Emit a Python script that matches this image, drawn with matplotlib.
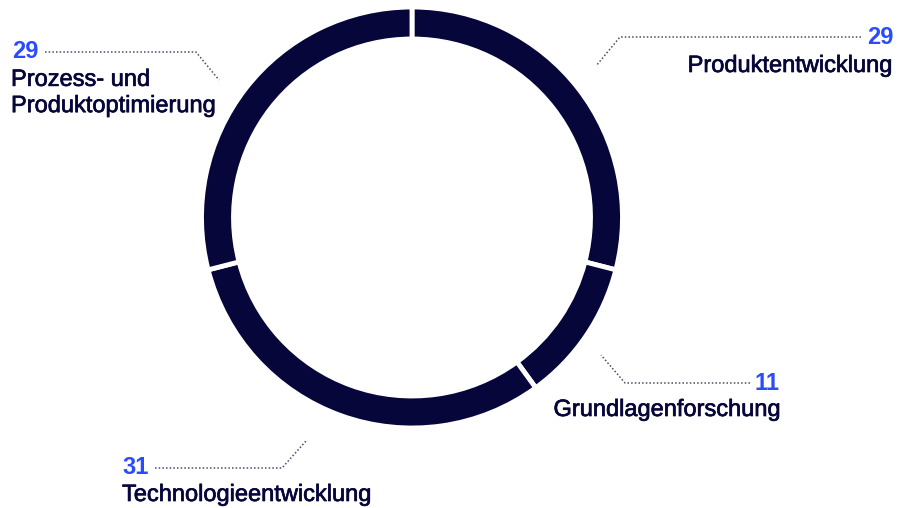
import matplotlib
matplotlib.use("Agg")
import matplotlib.pyplot as plt
import matplotlib.patheffects as pe

# data
kategorien = ["Produktentwicklung", "Grundlagenforschung", "Technologieentwicklung", "Prozess- und\nProduktoptimierung"]
werte = [29, 11, 31, 29]

NAVY = "#06063a"
BLAU = "#2b4bff"
LINIE = "#4a4a6e"
W, H = 899, 508

plt.rcParams['font.family'] = ['Liberation Sans', 'DejaVu Sans']

fig = plt.figure(figsize=(W / 100, H / 100), dpi=100)
ax = fig.add_axes([0, 0, 1, 1])

ax.pie(werte, startangle=90, counterclock=False, colors=[NAVY] * len(werte),
       center=(412, H - 217.5), radius=210.5,
       wedgeprops=dict(width=32, edgecolor="white", linewidth=3.5))

ax.set_xlim(0, W)
ax.set_ylim(0, H)
ax.set_aspect("equal")
ax.axis("off")


def y(p):
    # pixel row -> data y
    return H - p


# label layout: (number x, number y, number ha, text x, text y, line points)
layout = [
    (893, 37, "right", 893, 66, [(861, 37), (620, 37), (596, 66)]),
    (780, 383, "right", 781, 410, [(750, 383), (625, 383), (601, 355)]),
    (122, 468, "left", 122, 495, [(155, 468), (282, 468), (306, 441)]),
    (12, 52, "left", 11, 93, [(45, 52), (196, 52), (219, 80)]),
]

fs = 17
medium = [pe.withStroke(linewidth=0.5, foreground=NAVY)]
for (nx, ny, ha, tx, ty, pts), name, val in zip(layout, kategorien, werte):
    ax.text(nx, y(ny), str(val), ha=ha, va="center", fontsize=fs,
            fontweight="bold", color=BLAU)
    ax.text(tx, y(ty), name, ha=ha, va="center", fontsize=fs,
            color=NAVY, linespacing=1.25, path_effects=medium)
    xs = [p[0] for p in pts]
    ys = [y(p[1]) for p in pts]
    ax.plot(xs, ys, color=LINIE, linewidth=1.1, linestyle=(0, (1, 1.4)))

fig.savefig("out.png", dpi=100)
